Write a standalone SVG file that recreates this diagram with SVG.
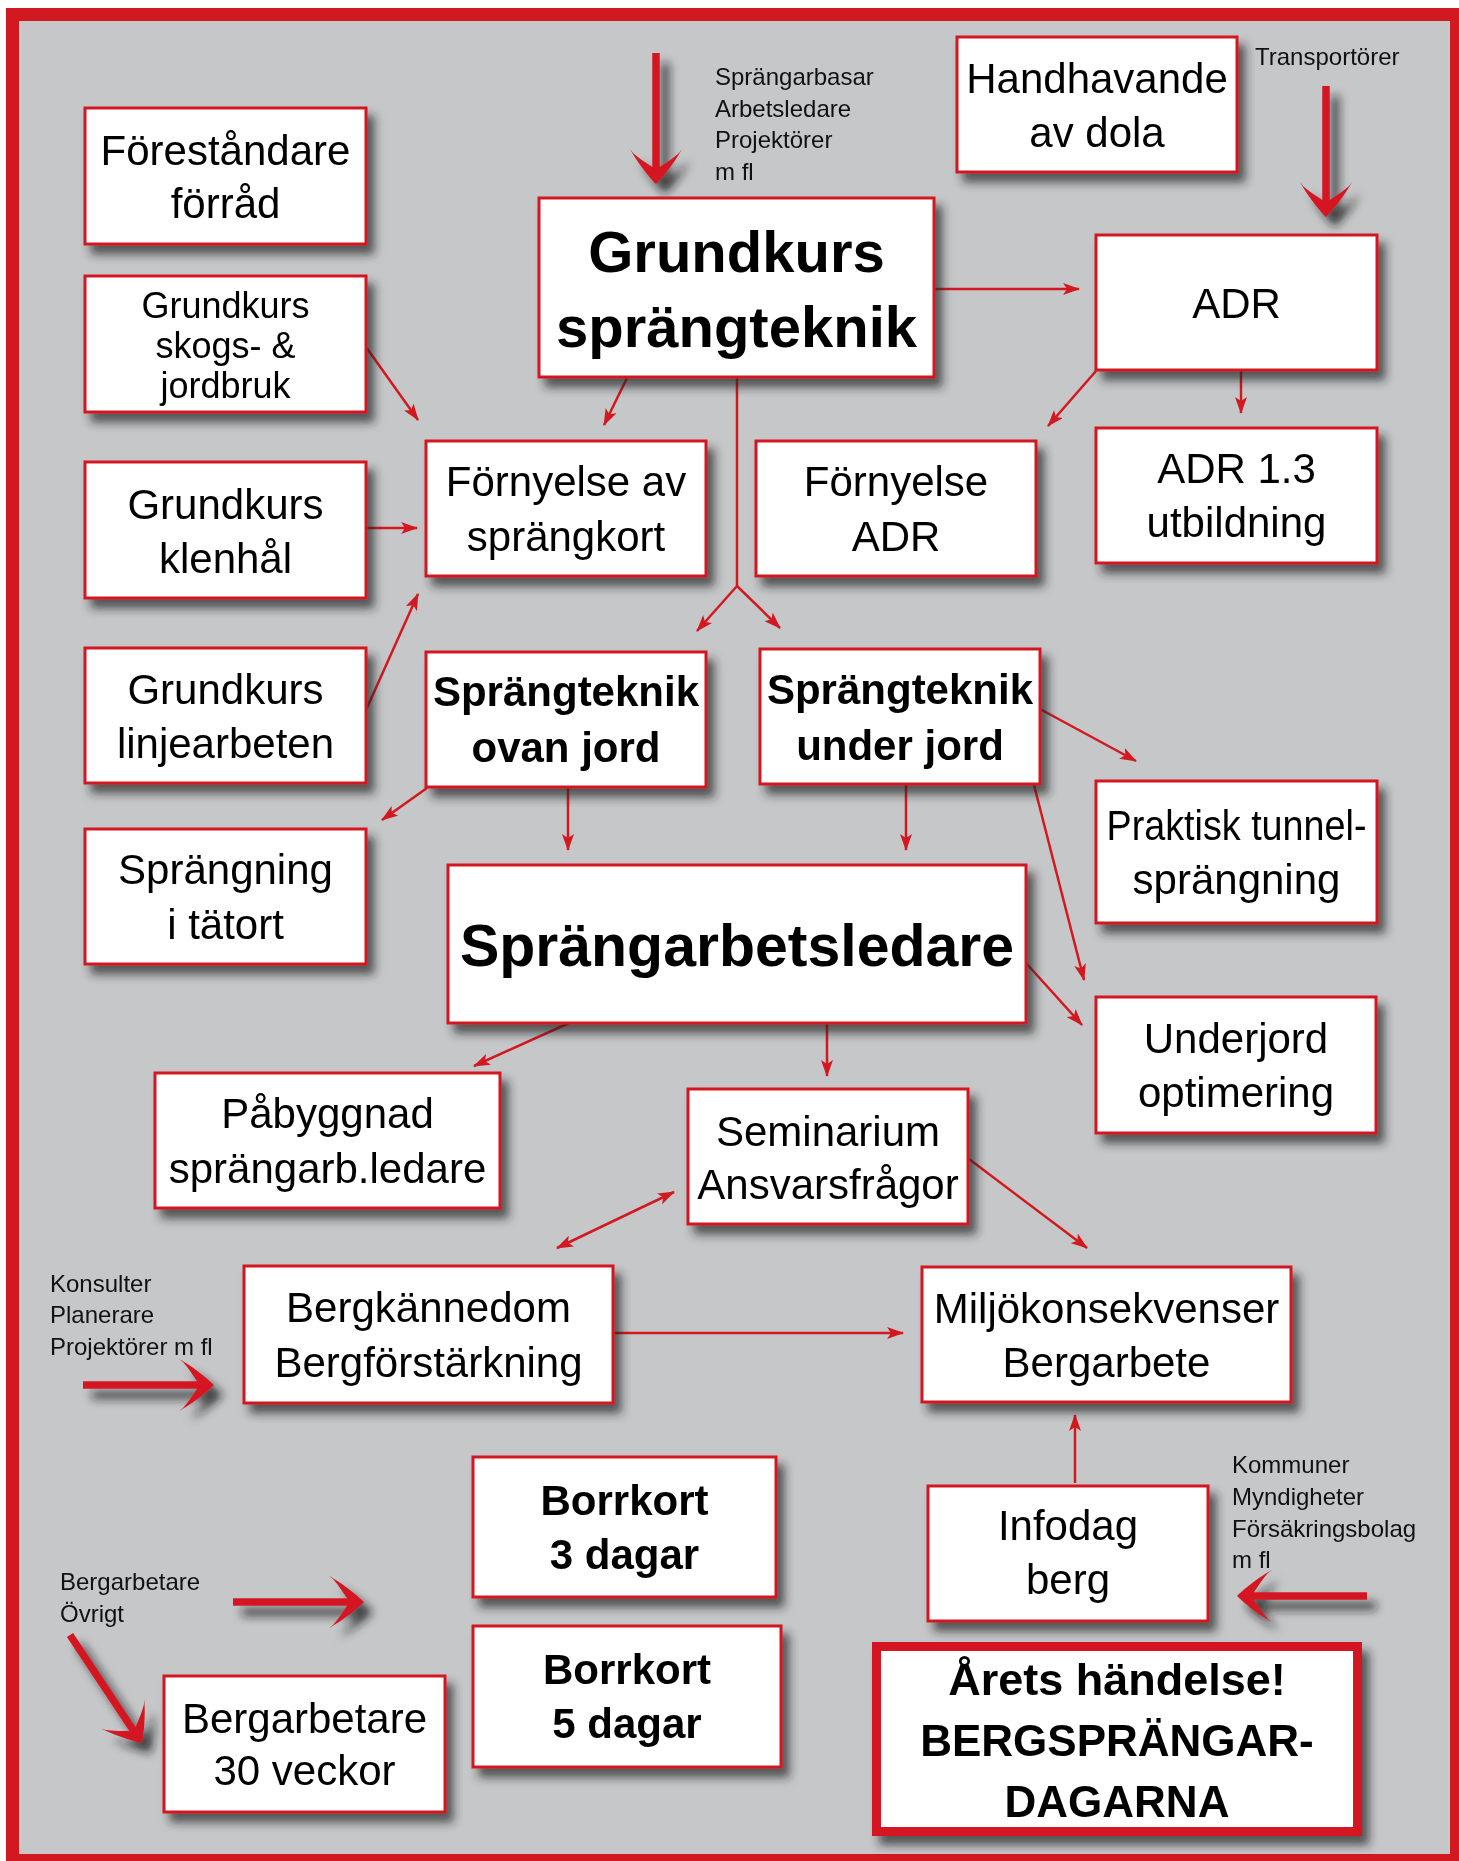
<svg xmlns="http://www.w3.org/2000/svg" width="1459" height="1861" viewBox="0 0 1459 1861">
<style>
.box{fill:#fff;stroke:#d31920;stroke-width:3}
.t{font-family:'Liberation Sans',Arial,sans-serif;font-size:42px;text-anchor:middle;fill:#000}
.b{font-weight:bold}
.s{font-family:'Liberation Sans',Arial,sans-serif;font-size:24px;fill:#111}
.c{stroke:#d31920;stroke-width:2.5;fill:none}
.thick{stroke:#d31920;stroke-width:7.5;fill:none}
.hd{fill:#d31920}
</style>
<defs>
<filter id="sh" x="-20%" y="-20%" width="150%" height="160%">
<feDropShadow dx="7" dy="9" stdDeviation="5" flood-color="#222" flood-opacity="0.7"/>
</filter>
<filter id="sh2" x="-30%" y="-30%" width="180%" height="180%">
<feDropShadow dx="9" dy="10" stdDeviation="5" flood-color="#1a1a1a" flood-opacity="0.8"/>
</filter>
<marker id="ah" viewBox="0 0 17 12" refX="16" refY="6" markerWidth="17" markerHeight="12" markerUnits="userSpaceOnUse" orient="auto-start-reverse">
<path d="M0,0 L17,6 L0,12 L4,6 z" fill="#d31920"/>
</marker>
<path id="bh" d="M0,0 C-5,-5 -18,-20 -26,-35 L-23,-31 C-15,-24 -8,-20 -3.8,-17 L3.8,-17 C8,-20 15,-24 23,-31 L26,-35 C18,-20 5,-5 0,0 Z"/>
</defs>
<rect x="6" y="8" width="1453" height="1853" fill="#d31920"/>
<rect x="19" y="21" width="1431" height="1833" fill="#c6c7c9"/>

<g id="connectors">
<line class="c" x1="366" y1="347" x2="418" y2="420" marker-end="url(#ah)"/>
<line class="c" x1="627" y1="378" x2="604" y2="425" marker-end="url(#ah)"/>
<line class="c" x1="366" y1="528" x2="417" y2="528" marker-end="url(#ah)"/>
<line class="c" x1="366" y1="710" x2="418" y2="594" marker-end="url(#ah)"/>
<line class="c" x1="934" y1="289" x2="1079" y2="289" marker-end="url(#ah)"/>
<line class="c" x1="1096" y1="371" x2="1048" y2="426" marker-end="url(#ah)"/>
<line class="c" x1="1241" y1="371" x2="1241" y2="413" marker-end="url(#ah)"/>
<line class="c" x1="737" y1="377" x2="737" y2="586"/>
<line class="c" x1="737" y1="586" x2="780" y2="628" marker-end="url(#ah)"/>
<line class="c" x1="737" y1="586" x2="697" y2="631" marker-end="url(#ah)"/>
<line class="c" x1="427" y1="788" x2="382" y2="820" marker-end="url(#ah)"/>
<line class="c" x1="568" y1="788" x2="568" y2="850" marker-end="url(#ah)"/>
<line class="c" x1="906" y1="785" x2="906" y2="850" marker-end="url(#ah)"/>
<line class="c" x1="1040" y1="709" x2="1136" y2="761" marker-end="url(#ah)"/>
<line class="c" x1="1034" y1="785" x2="1084" y2="980" marker-end="url(#ah)"/>
<line class="c" x1="1026" y1="963" x2="1082" y2="1025" marker-end="url(#ah)"/>
<line class="c" x1="569" y1="1023" x2="474" y2="1066" marker-end="url(#ah)"/>
<line class="c" x1="827" y1="1024" x2="827" y2="1076" marker-end="url(#ah)"/>
<line class="c" x1="557" y1="1248" x2="674" y2="1192" marker-start="url(#ah)" marker-end="url(#ah)"/>
<line class="c" x1="969" y1="1159" x2="1087" y2="1248" marker-end="url(#ah)"/>
<line class="c" x1="613" y1="1333" x2="903" y2="1333" marker-end="url(#ah)"/>
<line class="c" x1="1075" y1="1483" x2="1075" y2="1415" marker-end="url(#ah)"/>
</g>

<g id="thick-arrows" filter="url(#sh2)">
<line class="thick" x1="656" y1="53" x2="656" y2="172"/>
<use href="#bh" class="hd" transform="translate(656,184)"/>
<line class="thick" x1="1326" y1="86" x2="1326" y2="205"/>
<use href="#bh" class="hd" transform="translate(1326,217)"/>
<line class="thick" x1="83" y1="1385" x2="202" y2="1385"/>
<use href="#bh" class="hd" transform="translate(214,1385) rotate(-90)"/>
<line class="thick" x1="233" y1="1602" x2="352" y2="1602"/>
<use href="#bh" class="hd" transform="translate(364,1602) rotate(-90)"/>
<line class="thick" x1="70" y1="1635" x2="135" y2="1733"/>
<use href="#bh" class="hd" transform="translate(142,1743) rotate(-33.7)"/>
<line class="thick" x1="1367" y1="1596" x2="1248" y2="1596"/>
<use href="#bh" class="hd" transform="translate(1237,1596) rotate(90)"/>
</g>

<g id="labels">
<text class="s" x="715" y="85">Sprängarbasar</text>
<text class="s" x="715" y="117">Arbetsledare</text>
<text class="s" x="715" y="148">Projektörer</text>
<text class="s" x="715" y="180">m fl</text>
<text class="s" x="1255" y="65">Transportörer</text>
<text class="s" x="50" y="1292">Konsulter</text>
<text class="s" x="50" y="1323">Planerare</text>
<text class="s" x="50" y="1355">Projektörer m fl</text>
<text class="s" x="1232" y="1473">Kommuner</text>
<text class="s" x="1232" y="1505">Myndigheter</text>
<text class="s" x="1232" y="1537">Försäkringsbolag</text>
<text class="s" x="1232" y="1568">m fl</text>
<text class="s" x="60" y="1590">Bergarbetare</text>
<text class="s" x="60" y="1622">Övrigt</text>
</g>

<g id="n-forestandare"><rect class="box" x="85" y="108" width="281" height="136" filter="url(#sh)"/><text class="t" x="225.5" y="165">Föreståndare</text><text class="t" x="225.5" y="218">förråd</text></g>
<g id="n-skogs"><rect class="box" x="85" y="276" width="281" height="136" filter="url(#sh)"/><text class="t" style="font-size:36px" x="225.5" y="318">Grundkurs</text><text class="t" style="font-size:36px" x="225.5" y="358">skogs- &amp;</text><text class="t" style="font-size:36px" x="225.5" y="398">jordbruk</text></g>
<g id="n-klenhal"><rect class="box" x="85" y="462" width="281" height="136" filter="url(#sh)"/><text class="t" x="225.5" y="519">Grundkurs</text><text class="t" x="225.5" y="573">klenhål</text></g>
<g id="n-linje"><rect class="box" x="85" y="648" width="281" height="135" filter="url(#sh)"/><text class="t" x="225.5" y="704">Grundkurs</text><text class="t" x="225.5" y="758">linjearbeten</text></g>
<g id="n-tatort"><rect class="box" x="85" y="829" width="281" height="135" filter="url(#sh)"/><text class="t" x="225.5" y="884">Sprängning</text><text class="t" x="225.5" y="939">i tätort</text></g>
<g id="n-fornyelse-kort"><rect class="box" x="426" y="441" width="280" height="135" filter="url(#sh)"/><text class="t" x="566" y="496">Förnyelse av</text><text class="t" x="566" y="551">sprängkort</text></g>
<g id="n-ovan"><rect class="box" x="426" y="652" width="280" height="135" filter="url(#sh)"/><text class="t b" x="566" y="706">Sprängteknik</text><text class="t b" x="566" y="762">ovan jord</text></g>
<g id="n-under"><rect class="box" x="760" y="649" width="280" height="135" filter="url(#sh)"/><text class="t b" x="900" y="704">Sprängteknik</text><text class="t b" x="900" y="760">under jord</text></g>
<g id="n-fornyelse-adr"><rect class="box" x="756" y="441" width="280" height="135" filter="url(#sh)"/><text class="t" x="896" y="496">Förnyelse</text><text class="t" x="896" y="551">ADR</text></g>
<g id="n-adr13"><rect class="box" x="1096" y="428" width="281" height="135" filter="url(#sh)"/><text class="t" x="1236.5" y="483">ADR 1.3</text><text class="t" x="1236.5" y="537">utbildning</text></g>
<g id="n-praktisk"><rect class="box" x="1096" y="781" width="281" height="142" filter="url(#sh)"/><text class="t" x="1236.5" y="840" textLength="260" lengthAdjust="spacingAndGlyphs">Praktisk tunnel-</text><text class="t" x="1236.5" y="894">sprängning</text></g>
<g id="n-grundkurs"><rect class="box" x="539" y="198" width="395" height="179" filter="url(#sh)"/><text class="t b" style="font-size:58px" x="736.5" y="272">Grundkurs</text><text class="t b" style="font-size:58px" x="736.5" y="347">sprängteknik</text></g>
<g id="n-handhavande"><rect class="box" x="957" y="37" width="280" height="135" filter="url(#sh)"/><text class="t" x="1097" y="93">Handhavande</text><text class="t" x="1097" y="147">av dola</text></g>
<g id="n-adr"><rect class="box" x="1096" y="235" width="281" height="135" filter="url(#sh)"/><text class="t" x="1236.5" y="318">ADR</text></g>
<g id="n-sprangarbetsledare"><rect class="box" x="448" y="865" width="578" height="158" filter="url(#sh)"/><text class="t b" style="font-size:59px" x="737" y="966">Sprängarbetsledare</text></g>
<g id="n-underjord"><rect class="box" x="1096" y="997" width="280" height="136" filter="url(#sh)"/><text class="t" x="1236" y="1053">Underjord</text><text class="t" x="1236" y="1107">optimering</text></g>
<g id="n-pabyggnad"><rect class="box" x="155" y="1073" width="345" height="135" filter="url(#sh)"/><text class="t" x="327.5" y="1128">Påbyggnad</text><text class="t" x="327.5" y="1183">sprängarb.ledare</text></g>
<g id="n-seminarium"><rect class="box" x="688" y="1089" width="280" height="135" filter="url(#sh)"/><text class="t" x="828" y="1146">Seminarium</text><text class="t" x="828" y="1199">Ansvarsfrågor</text></g>
<g id="n-bergkannedom"><rect class="box" x="244" y="1266" width="369" height="137" filter="url(#sh)"/><text class="t" x="428.5" y="1322">Bergkännedom</text><text class="t" x="428.5" y="1377">Bergförstärkning</text></g>
<g id="n-miljo"><rect class="box" x="922" y="1267" width="369" height="135" filter="url(#sh)"/><text class="t" x="1106.5" y="1323">Miljökonsekvenser</text><text class="t" x="1106.5" y="1377">Bergarbete</text></g>
<g id="n-infodag"><rect class="box" x="928" y="1486" width="280" height="135" filter="url(#sh)"/><text class="t" x="1068" y="1540">Infodag</text><text class="t" x="1068" y="1594">berg</text></g>
<g id="n-borr3"><rect class="box" x="473" y="1457" width="303" height="140" filter="url(#sh)"/><text class="t b" x="624.5" y="1515">Borrkort</text><text class="t b" x="624.5" y="1569">3 dagar</text></g>
<g id="n-borr5"><rect class="box" x="473" y="1626" width="308" height="141" filter="url(#sh)"/><text class="t b" x="627" y="1684">Borrkort</text><text class="t b" x="627" y="1738">5 dagar</text></g>
<g id="n-bergarbetare"><rect class="box" x="164" y="1676" width="281" height="136" filter="url(#sh)"/><text class="t" x="304.5" y="1733">Bergarbetare</text><text class="t" x="304.5" y="1785">30 veckor</text></g>
<g id="n-arets"><rect x="876.5" y="1646.5" width="481" height="185" fill="#fff" stroke="#d31920" stroke-width="9" filter="url(#sh)"/><text class="t b" style="font-size:45px" x="1117" y="1695">Årets händelse!</text><text class="t b" style="font-size:44px" x="1117" y="1756">BERGSPRÄNGAR-</text><text class="t b" style="font-size:44px" x="1117" y="1817">DAGARNA</text></g>
</svg>
